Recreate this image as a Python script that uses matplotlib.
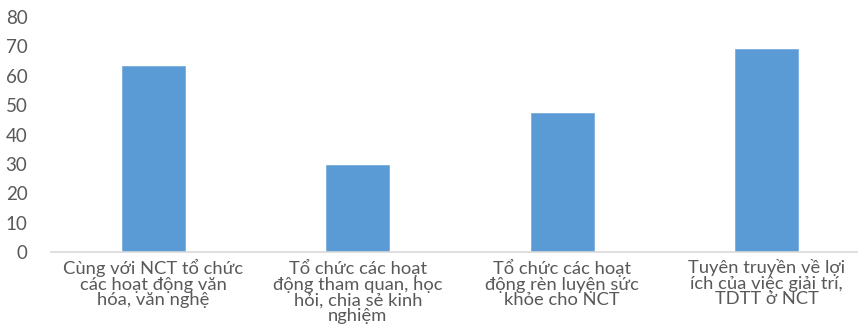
import matplotlib.pyplot as plt

categories = [
    "Cùng với NCT tổ chức\ncác hoạt động văn\nhóa, văn nghệ",
    "Tổ chức các hoạt\nđộng tham quan, học\nhỏi, chia sẻ kinh\nnghiệm",
    "Tổ chức các hoạt\nđộng rèn luyện sức\nkhỏe cho NCT",
    "Tuyên truyền về lợi\ních của việc giải trí,\nTDTT ở NCT",
]
values = [63.3, 29.6, 47.3, 69.0]
yticks = [0, 10, 20, 30, 40, 50, 60, 70, 80]

plt.rcParams["font.family"] = ["Lato", "DejaVu Sans"]
text_color = "#595959"

fig = plt.figure(figsize=(8.58, 3.31), dpi=100)
ax = fig.add_axes([51 / 858, 79 / 331, 818 / 858, 235 / 331])

x = range(len(categories))
ax.bar(x, values, width=0.31, color="#5b9bd5", edgecolor="#7aaede", linewidth=0.6)

ax.set_xlim(-0.5, len(categories) - 0.5)
ax.set_ylim(0, 80)
ax.set_yticks(yticks)
ax.set_xticks(list(x))
ax.set_xticklabels(categories, fontsize=13.2, color=text_color, linespacing=0.98)
ax.tick_params(axis="y", labelsize=13.5, labelcolor=text_color, length=0, pad=17)
ax.tick_params(axis="x", length=0, pad=5)

for side in ("top", "right", "left"):
    ax.spines[side].set_visible(False)
ax.spines["bottom"].set_color("#d9d9d9")
ax.spines["bottom"].set_linewidth(1.2)

fig.savefig("out.png", dpi=100)
